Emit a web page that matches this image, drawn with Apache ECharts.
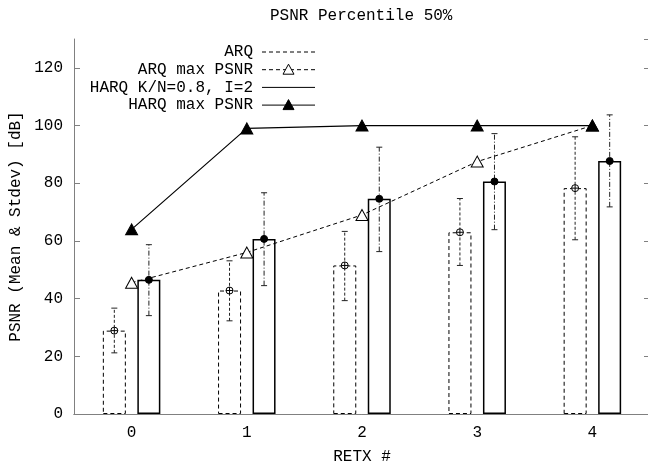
<!DOCTYPE html>
<html><head><meta charset="utf-8">
<script src="https://cdn.jsdelivr.net/npm/echarts@6/dist/echarts.min.js"></script>
<style>html,body{margin:0;padding:0;background:#fff}#c{width:648px;height:466px}</style>
</head><body><div id="c"></div>
<script>
const categories = ['0', '1', '2', '3', '4'];
const yTicks = [0, 20, 40, 60, 80, 100, 120];
const arqMean = [28.9, 42.8, 51.5, 63.0, 78.3];
const arqLow = [21.2, 32.3, 39.3, 51.5, 60.4];
const arqHigh = [36.7, 53.1, 63.3, 74.7, 96.1];
const harqMean = [46.5, 60.7, 74.6, 80.6, 87.7];
const harqLow = [34.1, 44.5, 56.3, 63.9, 71.8];
const harqHigh = [58.7, 76.7, 92.5, 97.2, 103.7];
const arqMax = [45.5, 56.0, 69.0, 87.5, 100];
const harqMax = [64, 99, 100, 100, 100];
const legendNames = ['ARQ', 'ARQ max PSNR', 'HARQ K/N=0.8, I=2', 'HARQ max PSNR'];
const titleText = 'PSNR Percentile 50%';
const xName = 'RETX #';
const yName = 'PSNR (Mean & Stdev) [dB]';

const FONT = '"Liberation Mono", "DejaVu Sans Mono", monospace';
const AX = '#808080';
const chart = echarts.init(document.getElementById('c'), null, {renderer: 'canvas'});

function errSeries(name, mean, low, high, offFrac, dash, filled) {
  return {
    type: 'custom', name: name, z: 10,
    data: mean.map((m, i) => [i, m, low[i], high[i]]),
    renderItem: function (params, api) {
      const band = api.size([1, 0])[0];
      const off = offFrac * band;
      const pm = api.coord([api.value(0), api.value(1)]);
      const pl = api.coord([api.value(0), api.value(2)]);
      const ph = api.coord([api.value(0), api.value(3)]);
      const x = pm[0] + off;
      const cap = 3;
      const st = {stroke: '#222', lineWidth: 1, lineDash: dash, fill: null};
      const ch = [
        {type: 'line', shape: {x1: x, y1: pl[1], x2: x, y2: ph[1]}, style: st},
        {type: 'line', shape: {x1: x - cap, y1: pl[1], x2: x + cap, y2: pl[1]}, style: {stroke: '#222', lineWidth: 1}},
        {type: 'line', shape: {x1: x - cap, y1: ph[1], x2: x + cap, y2: ph[1]}, style: {stroke: '#222', lineWidth: 1}}
      ];
      if (filled) {
        ch.push({type: 'circle', shape: {cx: x, cy: pm[1], r: 3.5}, style: {fill: '#000', stroke: '#000'}});
      } else {
        ch.push({type: 'circle', shape: {cx: x, cy: pm[1], r: 3.5}, style: {fill: '#fff', stroke: '#000', lineWidth: 1}});
        ch.push({type: 'line', shape: {x1: x - 3.5, y1: pm[1], x2: x + 3.5, y2: pm[1]}, style: {stroke: '#000', lineWidth: 1}});
        ch.push({type: 'line', shape: {x1: x, y1: pm[1] - 3.5, x2: x, y2: pm[1] + 3.5}, style: {stroke: '#000', lineWidth: 1}});
      }
      return {type: 'group', children: ch};
    }
  };
}

// legend graphics
const LX = 253, LS = 262, LE = 315, LY0 = 52, LDY = 17.7;
const legendStyles = [
  {dash: [4, 3], sym: null},
  {dash: [4, 3], sym: 'open'},
  {dash: null, sym: null},
  {dash: null, sym: 'filled'}
];
const graphics = [];
legendNames.forEach((n, i) => {
  const y = LY0 + i * LDY;
  graphics.push({type: 'text', x: LX, y: y, style: {text: n, font: '16px ' + FONT, fill: '#000', textAlign: 'right', textVerticalAlign: 'middle'}});
  const s = legendStyles[i];
  graphics.push({type: 'line', shape: {x1: LS, y1: y, x2: LE, y2: y}, style: {stroke: '#000', lineWidth: 1, lineDash: s.dash}});
  if (s.sym) {
    const cx = (LS + LE) / 2, h = 9, w = 11;
    graphics.push({type: 'polygon', shape: {points: [[cx, y - h / 2 - 1], [cx - w / 2, y + h / 2], [cx + w / 2, y + h / 2]]},
      style: {fill: s.sym === 'filled' ? '#000' : '#fff', stroke: '#000', lineWidth: 1}});
  }
});

const tri = 'path://M0,-10L-6,5L6,5Z';

chart.setOption({
  animation: false,
  backgroundColor: '#fff',
  title: {text: titleText, left: 265, top: 3, textStyle: {fontFamily: FONT, fontSize: 16, fontWeight: 'normal', color: '#000'}},
  grid: {left: 74, right: -2, top: 39, bottom: 52, outerBoundsMode: 'none', containLabel: false},
  xAxis: [{
    type: 'category', data: categories, boundaryGap: true,
    name: xName, nameLocation: 'middle', nameGap: 35,
    nameTextStyle: {fontFamily: FONT, fontSize: 16, color: '#000'},
    axisLine: {lineStyle: {color: AX, width: 1}},
    axisTick: {inside: true, alignWithLabel: true, length: 5, lineStyle: {color: AX}},
    axisLabel: {fontFamily: FONT, fontSize: 16, color: '#000', margin: 11},
    splitLine: {show: false}
  }, {
    type: 'category', data: categories, position: 'top', boundaryGap: true,
    axisLine: {lineStyle: {color: AX, width: 1}},
    axisTick: {inside: true, alignWithLabel: true, length: 5, lineStyle: {color: AX}},
    axisLabel: {show: false}
  }],
  yAxis: [{
    type: 'value', min: 0, max: 130, interval: 20,
    name: yName, nameLocation: 'middle', nameGap: 50,
    nameTextStyle: {fontFamily: FONT, fontSize: 16, color: '#000'},
    axisLine: {show: true, lineStyle: {color: AX, width: 1}},
    axisTick: {show: true, inside: true, length: 6, lineStyle: {color: AX}},
    axisLabel: {fontFamily: FONT, fontSize: 16, color: '#000', margin: 11, showMaxLabel: false},
    splitLine: {show: false}
  }, {
    type: 'value', min: 0, max: 130, interval: 20, position: 'right',
    axisLine: {show: true, lineStyle: {color: AX, width: 1}},
    axisTick: {show: true, inside: true, length: 6, lineStyle: {color: AX}},
    axisLabel: {show: false}, splitLine: {show: false}
  }],
  graphic: graphics,
  series: [
    {type: 'bar', name: 'ARQ', data: arqMean, barWidth: 23, barGap: '50%', z: 2,
      itemStyle: {color: 'rgba(0,0,0,0)', borderColor: '#000', borderWidth: 1, borderType: [4, 3]}},
    {type: 'bar', name: 'HARQ K/N=0.8, I=2', data: harqMean, barWidth: 23, barGap: '50%', z: 2,
      itemStyle: {color: 'rgba(0,0,0,0)', borderColor: '#000', borderWidth: 1.5}},
    {type: 'line', name: 'ARQ max PSNR', data: arqMax, z: 5, symbol: tri, symbolSize: [12, 11], showAllSymbol: true,
      lineStyle: {color: '#000', width: 1, type: [4, 3]},
      itemStyle: {color: '#fff', borderColor: '#000', borderWidth: 1}},
    {type: 'line', name: 'HARQ max PSNR', data: harqMax, z: 5, symbol: tri, symbolSize: [12, 11], showAllSymbol: true,
      lineStyle: {color: '#000', width: 1.2},
      itemStyle: {color: '#000', borderColor: '#000', borderWidth: 1}},
    errSeries('ARQ err', arqMean, arqLow, arqHigh, -0.15, [3, 2], false),
    errSeries('HARQ err', harqMean, harqLow, harqHigh, 0.15, [5, 2, 1, 2], true)
  ]
});
</script></body></html>
